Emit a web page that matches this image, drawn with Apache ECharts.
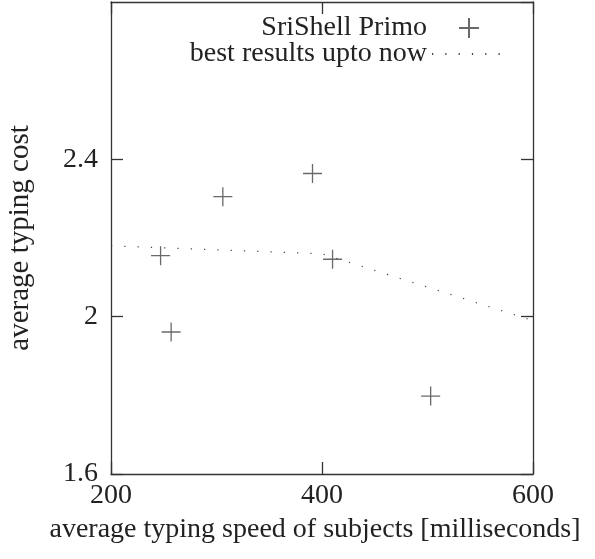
<!DOCTYPE html>
<html>
<head>
<meta charset="utf-8">
<script src="https://cdn.jsdelivr.net/npm/echarts@6/dist/echarts.min.js"></script>
<style>
  html, body { margin: 0; padding: 0; background: #fff; }
  #main { width: 595px; height: 559px; }
</style>
</head>
<body>
<div id="main"></div>
<script>
// measured points
const primoSpeed = [247, 257, 306, 391, 410, 503];
const primoCost = [2.155, 1.961, 2.305, 2.364, 2.146, 1.798];
// frontier line
const bestSpeed = [200, 400, 600];
const bestCost = [2.18, 2.16, 1.99];

const xTicks = { min: 200, max: 600, interval: 200 };
const yTicks = { min: 1.6, max: 2.8, interval: 0.4 };

const font = "Liberation Serif";
const ink = "#222";
const lineCol = "#333";

const chart = echarts.init(document.getElementById("main"));

const zip = (xs, ys) => xs.map((x, i) => [x, ys[i]]);
const fmt = (v) => String(Math.round(v * 10) / 10);
const plus = "path://M0,10L20,10M10,0L10,20";

const axisCommon = {
  axisLine: { show: true, onZero: false, lineStyle: { color: lineCol, width: 1.3 } },
  axisTick: { show: true, inside: true, length: 12, lineStyle: { color: lineCol, width: 1.3 } },
  splitLine: { show: false },
};

chart.setOption({
  animation: false,
  grid: { left: 111, right: 62, top: 2, bottom: 85, outerBoundsMode: "none" },
  legend: {
    orient: "vertical",
    align: "right",
    right: 88,
    top: 14,
    padding: 0,
    itemWidth: 74,
    itemHeight: 20,
    itemGap: -2,
    textStyle: { fontFamily: font, fontSize: 28, color: ink },
    data: [
      { name: "SriShell Primo", icon: plus },
      {
        name: "best results upto now",
        itemStyle: { color: "transparent", borderWidth: 0 },
      },
    ],
  },
  xAxis: [
    {
      type: "value",
      ...xTicks,
      ...axisCommon,
      name: "average typing speed of subjects [milliseconds]",
      nameLocation: "middle",
      nameGap: 42,
      nameTextStyle: { fontFamily: font, fontSize: 28, color: ink, padding: [0, 14, 0, 0] },
      axisLabel: { margin: 8, fontFamily: font, fontSize: 28, color: ink },
    },
    {
      type: "value",
      position: "top",
      ...xTicks,
      ...axisCommon,
      axisLabel: { show: false },
    },
  ],
  yAxis: [
    {
      type: "value",
      ...yTicks,
      ...axisCommon,
      name: "average typing cost",
      nameLocation: "middle",
      nameGap: 76,
      nameTextStyle: { fontFamily: font, fontSize: 29, color: ink },
      axisLabel: {
        margin: 13,
        fontFamily: font,
        fontSize: 28,
        color: ink,
        showMaxLabel: false,
        formatter: fmt,
      },
    },
    {
      type: "value",
      position: "right",
      ...yTicks,
      ...axisCommon,
      axisLabel: { show: false },
    },
  ],
  series: [
    {
      name: "SriShell Primo",
      type: "scatter",
      symbol: plus,
      symbolSize: 19,
      itemStyle: { color: "transparent", borderColor: "#444", borderWidth: 1.3 },
      data: zip(primoSpeed, primoCost),
    },
    {
      name: "best results upto now",
      type: "line",
      symbol: "none",
      lineStyle: { color: "#444", width: 1.2, type: [1.2, 12.1] },
      data: zip(bestSpeed, bestCost),
    },
  ],
});
</script>
</body>
</html>
